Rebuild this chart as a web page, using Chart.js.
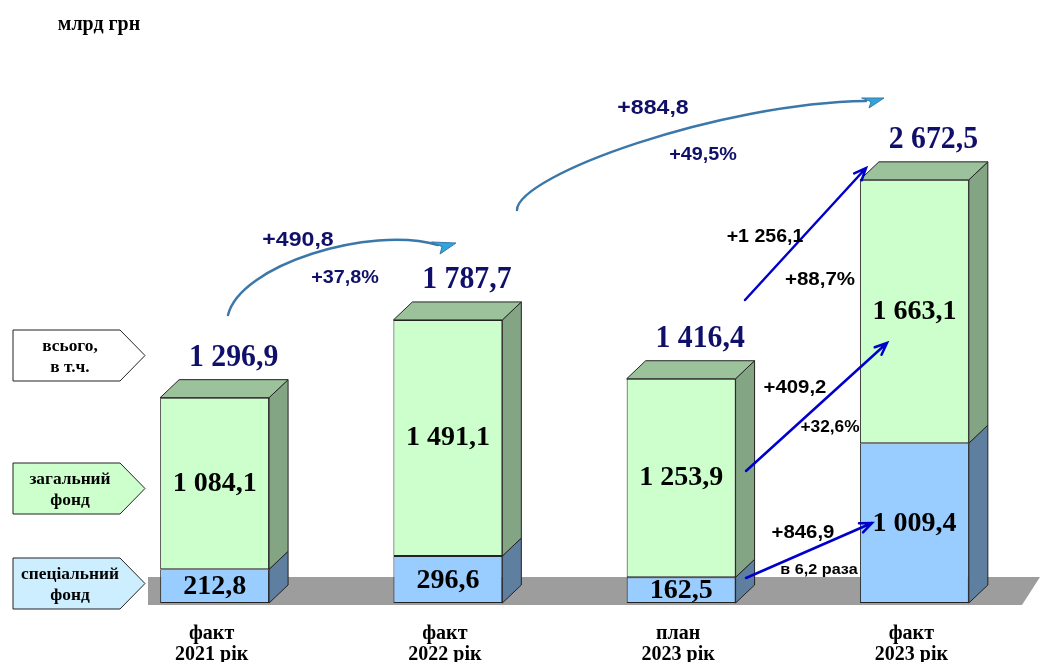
<!DOCTYPE html>
<html>
<head>
<meta charset="utf-8">
<script src="https://cdn.jsdelivr.net/npm/chart.js@4/dist/chart.umd.min.js"></script>
<style>
  body { margin: 0; background: #fff; }
  canvas { display: block; }
</style>
</head>
<body>
<canvas id="chart" width="1041" height="662"></canvas>
<script>
// categories and values, mlrd UAH
const categories = [['факт', '2021 рік'], ['факт', '2022 рік'], ['план', '2023 рік'], ['факт', '2023 рік']]
const specialFund = [212.8, 296.6, 162.5, 1009.4]
const generalFund = [1084.1, 1491.1, 1253.9, 1663.1]
const totals = [1296.9, 1787.7, 1416.4, 2672.5]
const generalLabels = ['1 084,1', '1 491,1', '1 253,9', '1 663,1']
const specialLabels = ['212,8', '296,6', '162,5', '1 009,4']
const totalLabels = ['1 296,9', '1 787,7', '1 416,4', '2 672,5']

const SERIF = '"Liberation Serif", "Times New Roman", serif'
const SANS = '"Liberation Sans", Arial, sans-serif'
const NAVY = '#10106a'
const DX = 19, DY = 18

const txt = (ctx, s, x, y, font, color, sx) => {
    ctx.save()
    ctx.font = font
    ctx.fillStyle = color
    ctx.textAlign = 'center'
    ctx.textBaseline = 'middle'
    ctx.translate(x, y)
    ctx.scale(sx || 1, 1)
    ctx.fillText(s, 0, 0)
    ctx.restore()
}

const poly = (ctx, pts, fill, stroke) => {
    ctx.beginPath()
    pts.forEach((p, i) => i ? ctx.lineTo(p[0], p[1]) : ctx.moveTo(p[0], p[1]))
    ctx.closePath()
    ctx.fillStyle = fill
    ctx.fill()
    if (stroke) {
        ctx.strokeStyle = stroke
        ctx.lineWidth = 1
        ctx.stroke()
    }
}

// grey floor under the bars
const floorPlugin = {
    id: 'floor',
    beforeDatasetsDraw(chart) {
        const { ctx, chartArea, scales } = chart
        const y0 = scales.y.getPixelForValue(0)
        const l = chartArea.left + 50, r = chartArea.right + 9
        poly(ctx, [[l, y0 - 26], [r, y0 - 26], [r - 18, y0 + 2], [l, y0 + 2]], '#9d9d9d')
    }
}

// 3d sides and tops of the bars
const boxPlugin = {
    id: 'box3d',
    afterDatasetsDraw(chart) {
        const ctx = chart.ctx
        const sides = ['#5f7fa0', '#84a584']
        chart.data.datasets.forEach((ds, di) => {
            chart.getDatasetMeta(di).data.forEach(bar => {
                const r = bar.x + bar.width / 2, l = bar.x - bar.width / 2
                const top = Math.min(bar.y, bar.base), bot = Math.max(bar.y, bar.base)
                poly(ctx, [[r, top], [r + DX, top - DY], [r + DX, bot - DY], [r, bot]], sides[di], '#222')
                if (di === 1) {
                    poly(ctx, [[l, top], [l + DX, top - DY], [r + DX, top - DY], [r, top]], '#9bc29b', '#222')
                }
            })
        })
    }
}

const curve = (ctx, p0, p1, p2, p3, head) => {
    ctx.save()
    ctx.strokeStyle = '#3b78a9'
    ctx.lineWidth = 2.5
    ctx.lineCap = 'round'
    ctx.beginPath()
    ctx.moveTo(p0[0], p0[1])
    ctx.bezierCurveTo(p1[0], p1[1], p2[0], p2[1], p3[0], p3[1])
    ctx.stroke()
    poly(ctx, head, '#2ea6dd', '#3b78a9')
    ctx.restore()
}

const arrow = (ctx, x0, y0, x1, y1) => {
    ctx.save()
    ctx.strokeStyle = '#0000cc'
    ctx.lineWidth = 2.5
    ctx.lineCap = 'round'
    ctx.beginPath()
    ctx.moveTo(x0, y0)
    ctx.lineTo(x1, y1)
    const a = Math.atan2(y1 - y0, x1 - x0)
    ctx.moveTo(x1 - 13 * Math.cos(a - 0.4), y1 - 13 * Math.sin(a - 0.4))
    ctx.lineTo(x1, y1)
    ctx.lineTo(x1 - 13 * Math.cos(a + 0.4), y1 - 13 * Math.sin(a + 0.4))
    ctx.stroke()
    ctx.restore()
}

const tag = (ctx, top, lines, fill) => {
    const l = 13, r = 120, tip = 145, b = top + 51
    poly(ctx, [[l, top], [r, top], [tip, (top + b) / 2], [r, b], [l, b]], fill, '#222')
    txt(ctx, lines[0], 70, top + 17, 'bold 17px ' + SERIF, '#000', 1.02)
    txt(ctx, lines[1], 70, top + 38, 'bold 17px ' + SERIF, '#000', 1.02)
}

const labelsPlugin = {
    id: 'labels',
    afterDraw(chart) {
        const ctx = chart.ctx
        const y = chart.scales.y
        const sMeta = chart.getDatasetMeta(0).data
        const gMeta = chart.getDatasetMeta(1).data

        txt(ctx, 'млрд грн', 99, 25, 'bold 21px ' + SERIF, '#000', 0.95)

        gMeta.forEach((bar, i) => {
            txt(ctx, generalLabels[i], bar.x, (bar.y + bar.base) / 2, 'bold 28px ' + SERIF, '#000')
            const sb = sMeta[i]
            txt(ctx, specialLabels[i], sb.x, (sb.y + sb.base) / 2 + 1, 'bold 28px ' + SERIF, '#000')
            txt(ctx, totalLabels[i], bar.x + 19, y.getPixelForValue(totals[i]) - 40, 'bold 32px ' + SERIF, NAVY, 0.93)
            txt(ctx, categories[i][0], bar.x - 3, 634, 'bold 20px ' + SERIF, '#000')
            txt(ctx, categories[i][1], bar.x - 3, 655, 'bold 20px ' + SERIF, '#000')
        })

        tag(ctx, 330, ['всього,', 'в т.ч.'], '#ffffff')
        tag(ctx, 463, ['загальний', 'фонд'], '#ccffcc')
        tag(ctx, 558, ['спеціальний', 'фонд'], '#cceeff')

        // curved growth arrows
        curve(ctx, [228, 315], [240, 265], [370, 225], [438, 245],
            [[432, 242], [456, 243], [440, 254], [442, 247]])
        curve(ctx, [517, 210], [518, 175], [720, 103], [866, 101],
            [[862, 98], [884, 98], [869, 108], [871, 102]])

        txt(ctx, '+490,8', 298, 240, 'bold 21px ' + SANS, NAVY, 1.1)
        txt(ctx, '+37,8%', 345, 278, 'bold 18px ' + SANS, NAVY, 1.1)
        txt(ctx, '+884,8', 653, 108, 'bold 21px ' + SANS, NAVY, 1.1)
        txt(ctx, '+49,5%', 703, 155, 'bold 18px ' + SANS, NAVY, 1.1)

        // straight arrows to fact 2023
        arrow(ctx, 745, 300, 866, 168)
        arrow(ctx, 746, 471, 887, 343)
        arrow(ctx, 746, 578, 872, 523)

        txt(ctx, '+1 256,1', 765, 237, 'bold 19px ' + SANS, '#000', 1.03)
        txt(ctx, '+88,7%', 820, 280, 'bold 19px ' + SANS, '#000', 1.08)
        txt(ctx, '+409,2', 795, 388, 'bold 18px ' + SANS, '#000', 1.13)
        txt(ctx, '+32,6%', 830, 428, 'bold 16px ' + SANS, '#000', 1.08)
        txt(ctx, '+846,9', 803, 533, 'bold 18px ' + SANS, '#000', 1.13)
        txt(ctx, 'в 6,2 раза', 819, 570, 'bold 15px ' + SANS, '#000', 1.08)
    }
}

new Chart('chart', {
    type: 'bar',
    data: {
        labels: categories,
        datasets: [
            {
                label: 'спеціальний фонд',
                data: specialFund,
                backgroundColor: '#99ccff',
                borderColor: '#222',
                borderWidth: 1,
                borderSkipped: false
            },
            {
                label: 'загальний фонд',
                data: generalFund,
                backgroundColor: '#ccffcc',
                borderColor: '#222',
                borderWidth: 1,
                borderSkipped: false
            }
        ]
    },
    options: {
        responsive: false,
        animation: false,
        layout: { padding: { left: 98, right: 10, top: 128, bottom: 59 } },
        datasets: { bar: { barPercentage: 0.467, categoryPercentage: 1 } },
        scales: {
            x: { stacked: true, display: false },
            y: { stacked: true, display: false, min: 0, max: 3000 }
        },
        plugins: {
            legend: { display: false },
            tooltip: { enabled: false }
        }
    },
    plugins: [floorPlugin, boxPlugin, labelsPlugin]
})
</script>
</body>
</html>
